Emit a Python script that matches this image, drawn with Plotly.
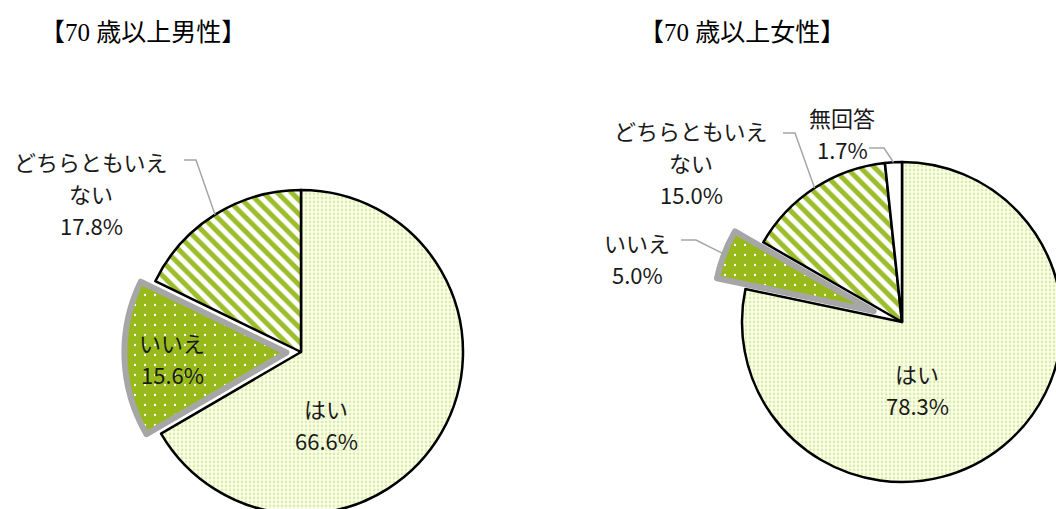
import math
import plotly.graph_objects as go

# Canvas is a little larger than the page so the pies run off its right and bottom edges
W, H = 1100, 545

# ---- data -------------------------------------------------------------
labels = ["はい", "いいえ", "どちらともいえない", "無回答"]
male_values = [66.6, 15.6, 17.8]
female_values = [78.3, 5.0, 15.0, 1.7]
titles = ["【70 歳以上男性】", "【70 歳以上女性】"]

# label lines shown on the chart (long category wrapped onto two lines)
label_lines = {"どちらともいえない": ["どちらともいえ", "ない"]}

# ---- styling per category ----------------------------------------------
style = {
    "はい":            dict(shape=".",  bg="#FCFEF4", fg="#DCEF9E", size=4,  solid=0.38,
                            line="#000000", lw=2.5),
    "いいえ":          dict(shape=".",  bg="#97B91C", fg="#FFFFFF", size=10, solid=0.04,
                            line="#A6A6A6", lw=6),
    "どちらともいえない": dict(shape="\\", bg="#FFFFFF", fg="#9CBD2C", size=10, solid=0.5,
                            line="#000000", lw=2.5),
    "無回答":          dict(shape="",   bg="#FFFFFF", fg="#FFFFFF", size=8,  solid=0.3,
                            line="#000000", lw=2.5),
}

# ---- layout of the two pies (pixel centres / radii) ----------------------
pies = [
    dict(values=male_values, cx=301, cy=352, r=162, pull=[0, 0.09, 0],
         title_xy=(143, 33),
         text_xy=[(326, 424), (172, 358), (91, 193)],
         leaders={2: [(184, 160), (196, 160)]}),
    dict(values=female_values, cx=902, cy=322, r=160, pull=[0, 0.19, 0, 0],
         title_xy=(742, 33),
         text_xy=[(917, 389), (637, 258), (691, 162), (842, 133)],
         leaders={1: [(681, 240), (696, 240)],
                  2: [(783, 133), (795, 133)],
                  3: [(869, 148), (884, 148)]}),
]

TEXT_FONT = dict(family="Noto Sans CJK JP", size=22, color="#1A1A1A")
TITLE_FONT = dict(family="Liberation Serif, Noto Sans CJK JP", size=25, color="#000000")
LINE_STEP = 32          # px between label lines
LEADER_COLOR = "#A6A6A6"


def paper(x, y):
    return x / W, 1 - y / H


fig = go.Figure()
annotations = []
shapes = []

for p, title in zip(pies, titles):
    vals = p["values"]
    cats = labels[:len(vals)]
    half = p["r"] * (1 + max(p["pull"]))
    domain = dict(x=[(p["cx"] - half) / W, (p["cx"] + half) / W],
                  y=[1 - (p["cy"] + half) / H, 1 - (p["cy"] - half) / H])

    st = [style[c] for c in cats]
    fig.add_trace(go.Pie(
        labels=cats, values=vals, sort=False, direction="clockwise", rotation=0,
        pull=p["pull"], domain=domain, textinfo="none", hoverinfo="skip",
        marker=dict(
            colors=[s["bg"] for s in st],
            line=dict(color=[s["line"] for s in st], width=[s["lw"] for s in st]),
            pattern=dict(shape=[s["shape"] for s in st],
                         bgcolor=[s["bg"] for s in st],
                         fgcolor=[s["fg"] for s in st],
                         size=[s["size"] for s in st],
                         solidity=[s["solid"] for s in st]),
        ),
    ))

    # category / percentage labels, one annotation per line
    for cat, v, (tx, ty) in zip(cats, vals, p["text_xy"]):
        lines = label_lines.get(cat, [cat]) + [f"{v:.1f}%"]
        top = ty - LINE_STEP * (len(lines) - 1) / 2
        for k, line in enumerate(lines):
            ax, ay = paper(tx, top + k * LINE_STEP)
            annotations.append(dict(
                x=ax, y=ay, xref="paper", yref="paper", xanchor="center",
                yanchor="middle", text=line, showarrow=False, font=TEXT_FONT))

    # chart title
    tx, ty = p["title_xy"]
    ax, ay = paper(tx, ty)
    annotations.append(dict(x=ax, y=ay, xref="paper", yref="paper", xanchor="center",
                            yanchor="middle", text=title, showarrow=False, font=TITLE_FONT))

    # leader lines from outside labels to the middle of the slice's rim
    total = sum(vals)
    cum = 0
    for i, v in enumerate(vals):
        mid = math.radians(90 - 360 * (cum + v / 2) / total)
        cum += v
        if i not in p["leaders"]:
            continue
        reach = p["r"] * (1 + p["pull"][i])
        ex = p["cx"] + reach * math.cos(mid)
        ey = p["cy"] - reach * math.sin(mid)
        pts = p["leaders"][i] + [(ex, ey)]
        path = "M " + " L ".join(f"{paper(x, y)[0]:.5f},{paper(x, y)[1]:.5f}" for x, y in pts)
        shapes.append(dict(type="path", xref="paper", yref="paper", path=path,
                           line=dict(color=LEADER_COLOR, width=1.5)))

fig.update_layout(
    width=W, height=H,
    margin=dict(l=0, r=0, t=0, b=0),
    paper_bgcolor="white", plot_bgcolor="white",
    showlegend=False,
    annotations=annotations,
    shapes=shapes,
)

fig.write_html(
    "out.html",
    config={"displayModeBar": False},
    post_script="document.body.style.margin='0';"
                "document.documentElement.style.overflow='hidden';"
                "document.body.style.overflow='hidden';",
)
